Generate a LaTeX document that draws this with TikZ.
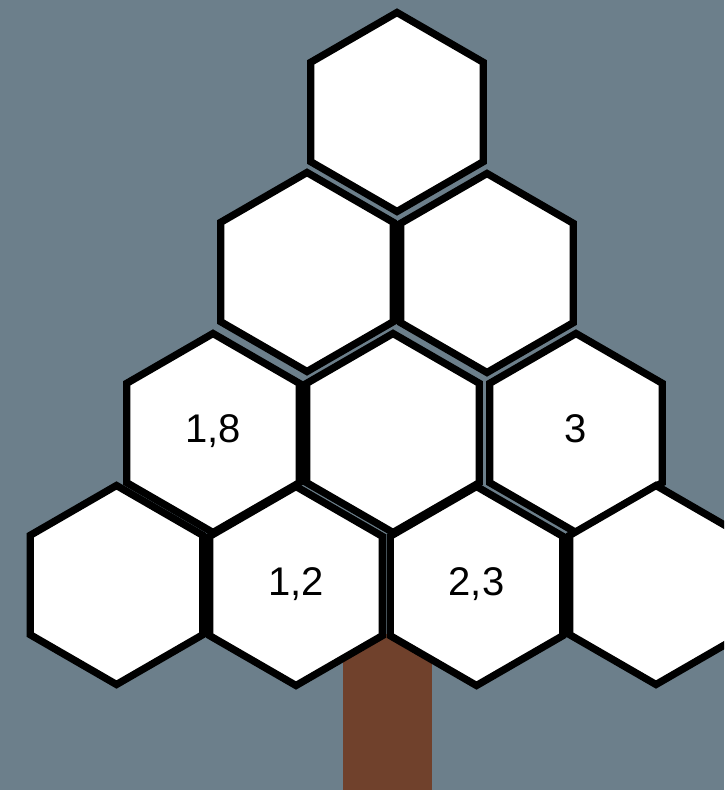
\documentclass[tikz,border=0pt]{standalone}
\usepackage{fontspec}
\setmainfont{Liberation Sans}
\usetikzlibrary{shapes.geometric}
\definecolor{bgcol}{RGB}{108,127,139}
\definecolor{trunkcol}{RGB}{112,65,44}
\begin{document}
\begin{tikzpicture}[x=1pt,y=-1pt,
  hexcell/.style={regular polygon, regular polygon sides=6, shape border rotate=30,
    minimum size=199pt, inner sep=0pt, draw=black, fill=white, line width=7.3pt,
    line join=miter, text height=19pt, text depth=0pt,
    font=\fontsize{40}{42}\selectfont}]
\fill[bgcol] (0,0) rectangle (724,790);
\useasboundingbox (0,0) rectangle (724,790);
\clip (0,0) rectangle (724,790);
\fill[trunkcol] (342.5,634) rectangle (431.5,790);
% row 1
\node[hexcell] (h11) at (397,112) {};
% row 2
\node[hexcell] (h21) at (307,272) {};
\node[hexcell] (h22) at (487,273) {};
% row 3
\node[hexcell] (h31) at (213,433) {1,8};
\node[hexcell] (h32) at (393,433) {};
\node[hexcell] (h33) at (576,433) {3};
% row 4
\node[hexcell] (h41) at (116.5,585) {};
\node[hexcell] (h42) at (296,586) {1,2};
\node[hexcell] (h43) at (476.5,586) {2,3};
\node[hexcell] (h44) at (656,585) {};
\end{tikzpicture}
\end{document}
